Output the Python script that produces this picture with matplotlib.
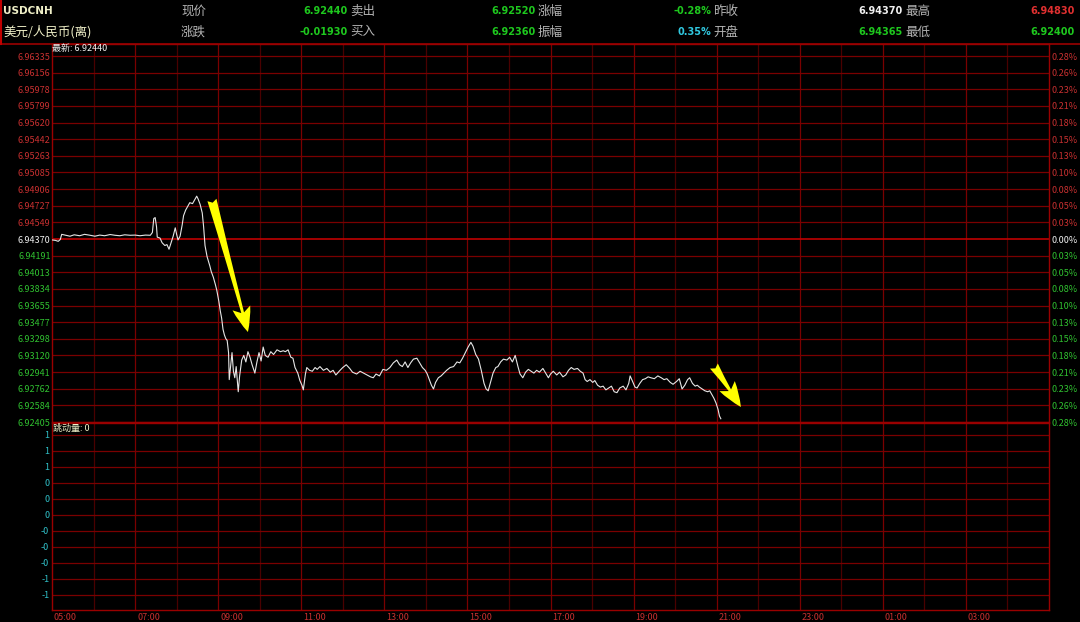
import matplotlib
matplotlib.use("Agg")
import matplotlib.pyplot as plt
import matplotlib.transforms as mtransforms
from matplotlib.lines import Line2D

plt.rcParams['font.family'] = ['Noto Sans CJK SC', 'DejaVu Sans']

# ---------------------------------------------------------------------------
# Data (minutes after 05:00, price)
# ---------------------------------------------------------------------------
minutes = [
    0, 5, 9, 12, 14, 20, 26, 32, 40, 47, 55, 62, 69, 76, 84, 91, 98, 105, 113, 120,
    127, 135, 142, 145, 147, 149, 151, 152, 156, 159, 163, 166, 169, 172, 175, 178, 180, 182, 185, 188,
    190, 193, 196, 199, 203, 206, 209, 211, 214, 217, 219, 221, 224, 228, 230, 233, 236, 238, 241, 243,
    245, 247, 249, 251, 253, 255, 256, 258, 260, 262, 264, 266, 269, 271, 274, 277, 280, 283, 286, 289,
    293, 296, 299, 302, 305, 308, 312, 316, 320, 325, 330, 334, 337, 341, 345, 348, 351, 355, 358, 361,
    363, 366, 368, 372, 376, 380, 383, 387, 392, 397, 402, 406, 410, 416, 420, 425, 430, 434, 440, 445,
    450, 455, 460, 464, 468, 473, 478, 483, 488, 493, 498, 502, 506, 510, 514, 518, 522, 527, 531, 535,
    539, 542, 545, 548, 551, 554, 558, 562, 566, 570, 575, 580, 585, 589, 593, 597, 601, 605, 608, 612,
    616, 620, 624, 627, 630, 634, 637, 641, 644, 648, 652, 657, 661, 665, 669, 673, 676, 680, 684, 688,
    692, 696, 700, 704, 709, 713, 717, 720, 724, 729, 733, 738, 742, 746, 750, 754, 759, 763, 767, 770,
    773, 777, 781, 784, 788, 792, 796, 800, 804, 808, 812, 816, 820, 825, 829, 833, 835, 838, 842, 845,
    849, 853, 857, 861, 865, 870, 875, 880, 884, 888, 893, 897, 902, 906, 910, 914, 918, 921, 925, 929,
    932, 935, 939, 943, 947, 950, 953, 956, 959, 962, 964, 966,
]
prices = [
    6.94360, 6.94355, 6.94345, 6.94365, 6.94420, 6.94410, 6.94400, 6.94415, 6.94405, 6.94420,
    6.94410, 6.94400, 6.94412, 6.94405, 6.94418, 6.94410, 6.94405, 6.94415, 6.94410, 6.94412,
    6.94405, 6.94412, 6.94410, 6.94440, 6.94590, 6.94600, 6.94500, 6.94390, 6.94380, 6.94330,
    6.94300, 6.94310, 6.94260, 6.94330, 6.94400, 6.94490, 6.94420, 6.94360, 6.94400, 6.94520,
    6.94620, 6.94680, 6.94720, 6.94760, 6.94750, 6.94790, 6.94830, 6.94800, 6.94740, 6.94650,
    6.94500, 6.94300, 6.94180, 6.94080, 6.94020, 6.93960, 6.93880, 6.93820, 6.93700, 6.93600,
    6.93520, 6.93400, 6.93340, 6.93300, 6.93280, 6.93150, 6.92860, 6.93000, 6.93150, 6.92950,
    6.92880, 6.93000, 6.92730, 6.92900, 6.93070, 6.93120, 6.93050, 6.93160, 6.93100, 6.93020,
    6.92930, 6.93050, 6.93150, 6.93060, 6.93210, 6.93120, 6.93100, 6.93160, 6.93130, 6.93180,
    6.93160, 6.93170, 6.93160, 6.93180, 6.93100, 6.93090, 6.92990, 6.92930, 6.92850, 6.92800,
    6.92750, 6.92920, 6.92990, 6.92960, 6.92950, 6.92990, 6.92970, 6.93000, 6.92960, 6.92980,
    6.92940, 6.92960, 6.92910, 6.92960, 6.92990, 6.93020, 6.92980, 6.92940, 6.92920, 6.92950,
    6.92930, 6.92910, 6.92890, 6.92880, 6.92920, 6.92900, 6.92970, 6.92960, 6.92990, 6.93040,
    6.93070, 6.93020, 6.93000, 6.93050, 6.92990, 6.93040, 6.93080, 6.93090, 6.93040, 6.92990,
    6.92960, 6.92920, 6.92860, 6.92800, 6.92760, 6.92830, 6.92880, 6.92900, 6.92930, 6.92960,
    6.92990, 6.93000, 6.93050, 6.93040, 6.93090, 6.93150, 6.93210, 6.93260, 6.93220, 6.93130,
    6.93080, 6.92960, 6.92820, 6.92760, 6.92740, 6.92850, 6.92930, 6.92990, 6.93000, 6.93050,
    6.93080, 6.93070, 6.93100, 6.93050, 6.93120, 6.93000, 6.92920, 6.92880, 6.92940, 6.92970,
    6.92950, 6.92930, 6.92960, 6.92940, 6.92980, 6.92930, 6.92880, 6.92920, 6.92950, 6.92910,
    6.92940, 6.92890, 6.92910, 6.92960, 6.92990, 6.92970, 6.92980, 6.92950, 6.92930, 6.92860,
    6.92840, 6.92860, 6.92830, 6.92850, 6.92800, 6.92780, 6.92790, 6.92750, 6.92770, 6.92790,
    6.92730, 6.92720, 6.92770, 6.92790, 6.92750, 6.92820, 6.92900, 6.92850, 6.92780, 6.92770,
    6.92820, 6.92860, 6.92870, 6.92890, 6.92880, 6.92870, 6.92900, 6.92880, 6.92860, 6.92870,
    6.92830, 6.92810, 6.92840, 6.92870, 6.92760, 6.92800, 6.92860, 6.92880, 6.92820, 6.92790,
    6.92800, 6.92780, 6.92760, 6.92740, 6.92730, 6.92740, 6.92700, 6.92660, 6.92610, 6.92540,
    6.92470, 6.92440,
]

# left axis ticks, right axis percentage labels
price_ticks = [
    6.96335, 6.96156, 6.95978, 6.95799, 6.95620, 6.95442, 6.95263, 6.95085, 6.94906, 6.94727,
    6.94549, 6.94370, 6.94191, 6.94013, 6.93834, 6.93655, 6.93477, 6.93298, 6.93120, 6.92941,
    6.92762, 6.92584, 6.92405,
]
pct_labels = [
    "0.28%", "0.26%", "0.23%", "0.21%", "0.18%", "0.15%", "0.13%", "0.10%", "0.08%", "0.05%",
    "0.03%", "0.00%", "0.03%", "0.05%", "0.08%", "0.10%", "0.13%", "0.15%", "0.18%", "0.21%",
    "0.23%", "0.26%", "0.28%",
]
prev_close = 6.94370

time_labels = ["05:00", "07:00", "09:00", "11:00", "13:00", "15:00",
               "17:00", "19:00", "21:00", "23:00", "01:00", "03:00"]

tick_vals = [1.0, 0.8, 0.6, 0.4, 0.2, 0.0, -0.2, -0.4, -0.6, -0.8, -1.0]
tick_text = ["1", "1", "1", "0", "0", "0", "-0", "-0", "-0", "-1", "-1"]

# arrows (tail minute, tail price, tip minute, tip price)
arrow_big = (231, 6.94789, 283, 6.93371)
arrow_small = (956, 6.93006, 995, 6.92566)

# header rows: (label, value, value colour)
header_row1 = [("现价", "6.92440", "#1ec81e"), ("卖出", "6.92520", "#1ec81e"),
               ("涨幅", "-0.28%", "#1ec81e"), ("昨收", "6.94370", "#f0f0f0"),
               ("最高", "6.94830", "#e03030")]
header_row2 = [("涨跌", "-0.01930", "#1ec81e"), ("买入", "6.92360", "#1ec81e"),
               ("振幅", "0.35%", "#30c8e0"), ("开盘", "6.94365", "#1ec81e"),
               ("最低", "6.92400", "#1ec81e")]

# ---------------------------------------------------------------------------
W, H = 1080, 622
RED_GRID = "#7a0000"
RED_DIM = "#4a0000"
RED_TXT = "#c83030"
GREEN_TXT = "#30c030"


def fx(x):
    return x / W


def fy(y):
    return 1 - y / H


fig = plt.figure(figsize=(W / 100, H / 100), dpi=100, facecolor="black")

# header
fig.add_artist(Line2D([0, 1], [fy(44), fy(44)], color="#9a0000", lw=1.2))
fig.add_artist(Line2D([fx(1), fx(1)], [fy(0), fy(44)], color="#c00000", lw=1.5))
fig.text(fx(3), fy(11), "USDCNH", color="#f0f0c8", fontsize=7.5, weight="bold",
         va="center", ha="left", family="DejaVu Sans")
fig.text(fx(3), fy(32), "美元/人民币(离)", color="#f0f0c8", fontsize=9,
         va="center", ha="left")
label_x = [181, 350, 541, 713, 905]
value_x = [348, 536, 711, 903, 1075]
for row, yy in ((header_row1, 11), (header_row2, 32)):
    for i, (lab, val, col) in enumerate(row):
        lx = label_x[i] if i == 0 else value_x[i - 1] + 2
        fig.text(fx(lx), fy(yy), lab, color="#b4b4b4", fontsize=9, va="center", ha="left")
        fig.text(fx(value_x[i]), fy(yy), val, color=col, fontsize=7, weight="bold",
                 va="center", ha="right", family="DejaVu Sans")

# main price panel
ax = fig.add_axes([fx(52), fy(422), (1049 - 52) / W, (422 - 44) / H])
ax.set_facecolor("black")
step = (price_ticks[0] - price_ticks[-1]) / (422 - 56)
ax.set_xlim(0, 1440)
ax.set_ylim(price_ticks[-1], price_ticks[0] + 12 * step)

for m in range(60, 1440, 60):
    ax.axvline(m, color=RED_GRID if m % 120 == 0 else RED_DIM, lw=0.9, zorder=1)
for v in price_ticks:
    if v == prev_close:
        ax.axhline(v, color="#c00000", lw=1.2, zorder=1)
    else:
        ax.axhline(v, color=RED_GRID, lw=0.9, zorder=1)

ax.plot(minutes, prices, color="#e6e6e6", lw=0.8, zorder=3)

for tail_m, tail_p, tip_m, tip_p in (arrow_big, arrow_small):
    ax.annotate("", xy=(tip_m, tip_p), xytext=(tail_m, tail_p),
                arrowprops=dict(arrowstyle="fancy,head_length=0.75,head_width=0.55,tail_width=0.28",
                                color="#ffff00", lw=0, shrinkA=0, shrinkB=0,
                                mutation_scale=24), zorder=4)

ax.set_yticks(price_ticks)
ax.set_yticklabels([f"{v:.5f}" for v in price_ticks])
for v, t in zip(price_ticks, ax.get_yticklabels()):
    t.set_color("#f0f0f0" if v == prev_close else (RED_TXT if v > prev_close else GREEN_TXT))
ax.tick_params(axis="y", length=0, labelsize=6.5, pad=1)
ax.set_xticks([])
for s in ax.spines.values():
    s.set_color("#9a0000")
    s.set_linewidth(1)

axr = ax.twinx()
axr.set_ylim(ax.get_ylim())
axr.set_yticks(price_ticks)
axr.set_yticklabels(pct_labels)
for v, t in zip(price_ticks, axr.get_yticklabels()):
    t.set_color("#f0f0f0" if v == prev_close else (RED_TXT if v > prev_close else GREEN_TXT))
axr.tick_params(axis="y", length=0, labelsize=6.5, pad=2)
for s in axr.spines.values():
    s.set_visible(False)

fig.text(fx(52), fy(49), "最新: 6.92440", color="#f0f0f0", fontsize=6.5, va="center", ha="left")

# lower tick-volume panel
ax2 = fig.add_axes([fx(52), fy(610), (1049 - 52) / W, (610 - 423) / H])
ax2.set_facecolor("black")
ax2.set_xlim(0, 1440)
ax2.set_ylim(-1.1875, 1.15)
for m in range(60, 1440, 60):
    ax2.axvline(m, color=RED_GRID if m % 120 == 0 else RED_DIM, lw=0.9)
for v in tick_vals:
    ax2.axhline(v, color=RED_GRID, lw=0.9)
ax2.set_yticks(tick_vals)
ax2.set_yticklabels(tick_text)
ax2.tick_params(axis="y", length=0, labelcolor="#30c0c8", labelsize=6.5, pad=2)
ax2.set_xticks(range(0, 1440, 120))
ax2.set_xticklabels(time_labels)
ax2.tick_params(axis="x", length=0, labelcolor=RED_TXT, labelsize=6.5, pad=2)
for t in ax2.get_xticklabels():
    t.set_horizontalalignment("left")
offset = mtransforms.ScaledTranslation(2 / 100, 0, fig.dpi_scale_trans)
for t in ax2.get_xticklabels():
    t.set_transform(t.get_transform() + offset)
for s in ax2.spines.values():
    s.set_color("#9a0000")
    s.set_linewidth(1)
ax2.text(1 / 997, 1.0 - 5 / 187, "跳动量: 0", transform=ax2.transAxes, color="#f0f0c8",
         fontsize=6.5, va="center", ha="left")

fig.savefig("out.png", dpi=100, facecolor="black")
